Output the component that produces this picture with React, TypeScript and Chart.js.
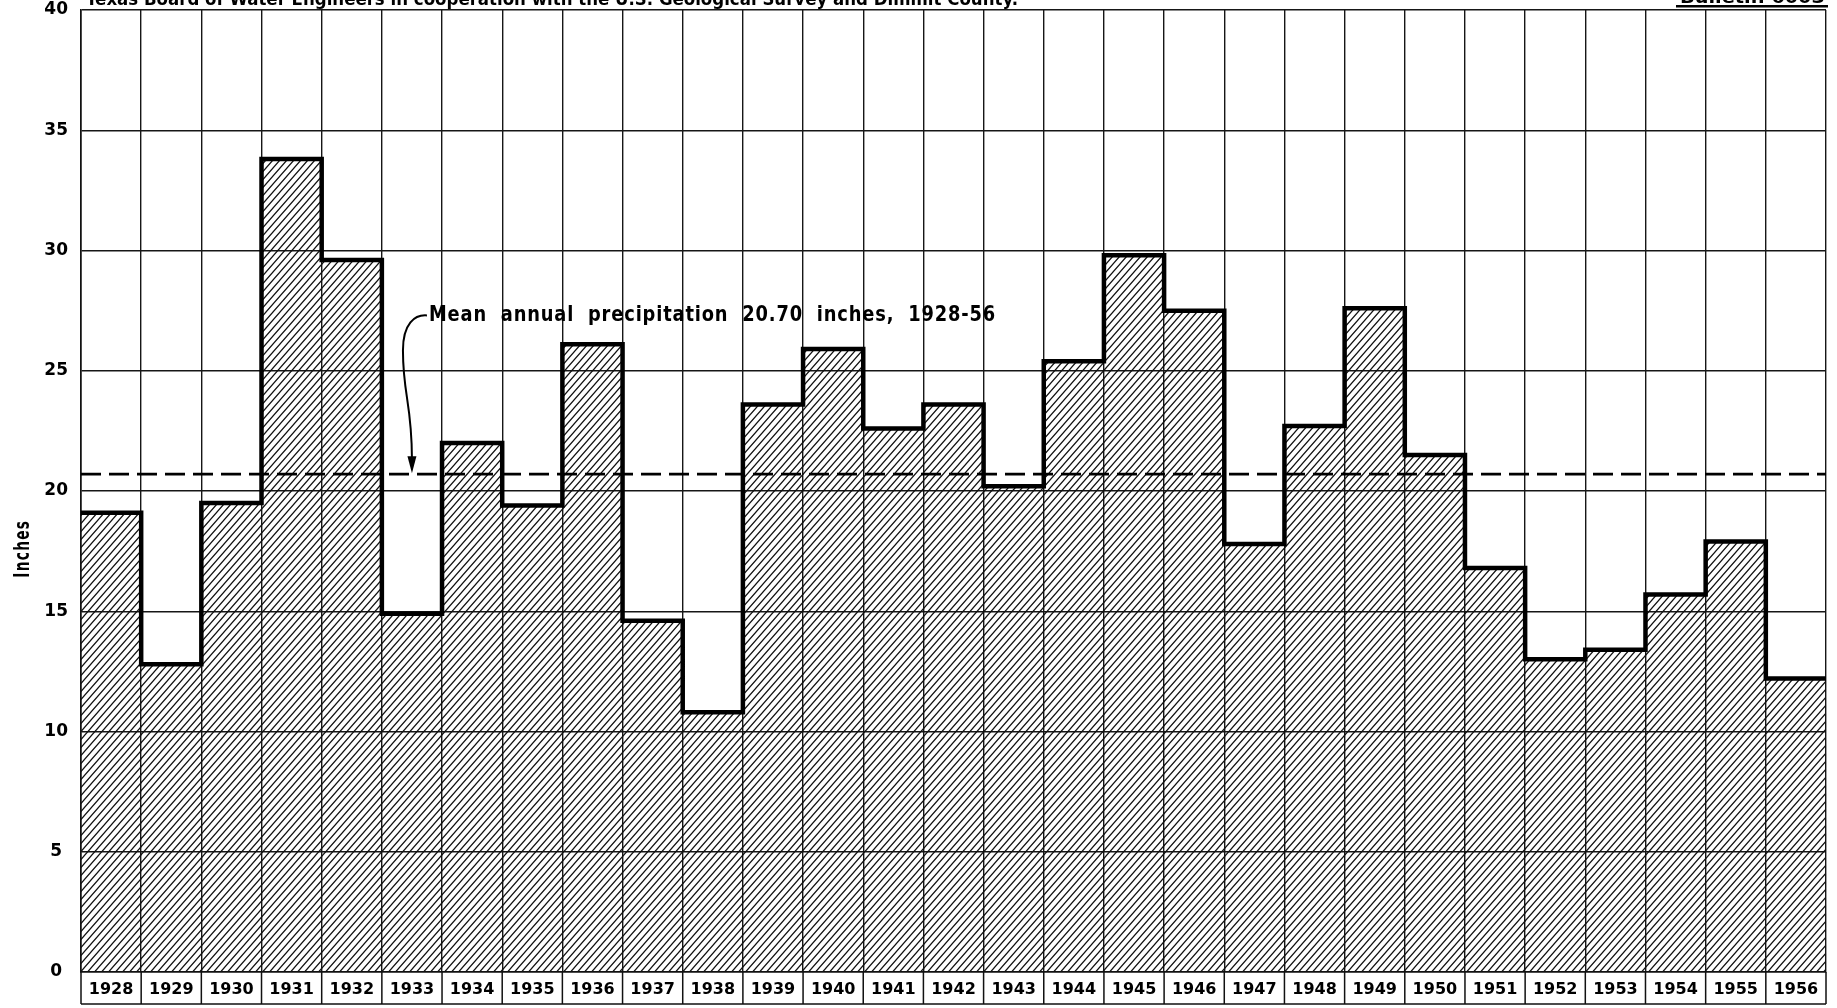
import React, { useEffect, useRef } from "react";
import { Chart, registerables } from "chart.js";

Chart.register(...registerables);

// ---------- data ----------
const YEARS = [
  "1928", "1929", "1930", "1931", "1932", "1933", "1934", "1935", "1936", "1937",
  "1938", "1939", "1940", "1941", "1942", "1943", "1944", "1945", "1946", "1947",
  "1948", "1949", "1950", "1951", "1952", "1953", "1954", "1955", "1956",
];
const PRECIP_INCHES = [
  19.1, 12.8, 19.5, 33.8, 29.6, 14.9, 22.0, 19.4, 26.1, 14.6,
  10.8, 23.6, 25.9, 22.6, 23.6, 20.2, 25.4, 29.8, 27.5, 17.8,
  22.7, 27.6, 21.5, 16.8, 13.0, 13.4, 15.7, 17.9, 12.2,
];
const MEAN_PRECIP = 20.7;
const Y_TICKS = [0, 5, 10, 15, 20, 25, 30, 35, 40];
const Y_TITLE = "Inches";
const MEAN_LABEL = "Mean annual precipitation 20.70 inches, 1928-56";
const MEAN_LABEL_YEAR_INDEX = 5; // arrow drops at the 1933 column
const MEAN_LABEL_VALUE = 27.3;
const HEADER_LEFT =
  "Texas Board of Water Engineers in cooperation with the U.S. Geological Survey and Dimmit County.";
const HEADER_RIGHT = "Bulletin 6003";

const FONT = '"DejaVu Sans", "Liberation Sans", sans-serif';

function makeHatch(): CanvasPattern | string {
  const w = 7;
  const h = 8;
  const c = document.createElement("canvas");
  c.width = w;
  c.height = h;
  const g = c.getContext("2d");
  if (!g) return "#888";
  g.strokeStyle = "#111";
  g.lineWidth = 1.25;
  g.beginPath();
  for (let k = -1; k <= 1; k++) {
    g.moveTo(k * w - 1, h + 8 / 7);
    g.lineTo(k * w + w + 1, -8 / 7);
  }
  g.stroke();
  const p = g.createPattern(c, "repeat");
  return p || "#888";
}

function fitText(
  ctx: CanvasRenderingContext2D,
  text: string,
  x: number,
  y: number,
  targetW: number,
  font: string,
  letterSpacing = "0px",
  wordSpacing = "0px"
) {
  ctx.save();
  ctx.font = font;
  (ctx as any).letterSpacing = letterSpacing;
  (ctx as any).wordSpacing = wordSpacing;
  const w = ctx.measureText(text).width || 1;
  ctx.translate(x, y);
  ctx.scale(targetW / w, 1);
  ctx.textAlign = "left";
  ctx.fillText(text, 0, 0);
  ctx.restore();
}

const decorPlugin = {
  id: "decor",
  afterDatasetsDraw(chart: any) {
    const ctx: CanvasRenderingContext2D = chart.ctx;
    const { left, right } = chart.chartArea;
    const yS = chart.scales.y;
    const bars: any[] = chart.getDatasetMeta(0).data;

    // mean dashed line
    const my = yS.getPixelForValue(MEAN_PRECIP);
    ctx.save();
    ctx.strokeStyle = "#000";
    ctx.lineWidth = 2.6;
    ctx.setLineDash([20, 8]);
    ctx.beginPath();
    ctx.moveTo(left, my);
    ctx.lineTo(right, my);
    ctx.stroke();
    ctx.restore();

    // heavy step outline of the bars
    ctx.save();
    ctx.strokeStyle = "#000";
    ctx.lineWidth = 4.5;
    ctx.lineJoin = "miter";
    ctx.lineCap = "butt";
    ctx.beginPath();
    bars.forEach((b, i) => {
      const p = b.getProps(["x", "y", "width"], true);
      const l = p.x - p.width / 2;
      const r = p.x + p.width / 2;
      if (i === 0) ctx.moveTo(l, p.y);
      else ctx.lineTo(l, p.y);
      ctx.lineTo(r, p.y);
    });
    ctx.stroke();
    ctx.restore();
  },
  afterDraw(chart: any) {
    const ctx: CanvasRenderingContext2D = chart.ctx;
    const { left, right, bottom } = chart.chartArea;
    const yS = chart.scales.y;
    const bars: any[] = chart.getDatasetMeta(0).data;

    // year label boxes
    const boxBottom = bottom + 32;
    ctx.save();
    ctx.strokeStyle = "#111";
    ctx.lineWidth = 1.5;
    ctx.beginPath();
    bars.forEach((b) => {
      const p = b.getProps(["x", "width"], true);
      const l = p.x - p.width / 2;
      ctx.moveTo(l, bottom);
      ctx.lineTo(l, boxBottom);
    });
    ctx.moveTo(right, bottom);
    ctx.lineTo(right, boxBottom);
    ctx.moveTo(left, boxBottom);
    ctx.lineTo(right, boxBottom);
    ctx.stroke();
    ctx.restore();

    // annotation text + arrow
    const ab = bars[MEAN_LABEL_YEAR_INDEX].getProps(["x"], true);
    const ax = ab.x;
    const ty = yS.getPixelForValue(MEAN_LABEL_VALUE);
    const tipY = yS.getPixelForValue(MEAN_PRECIP) - 1;
    ctx.save();
    ctx.fillStyle = "#000";
    ctx.textBaseline = "middle";
    fitText(ctx, MEAN_LABEL, ax + 17, ty, 567, `bold 21px ${FONT}`, "1px", "8px");
    ctx.strokeStyle = "#000";
    ctx.lineWidth = 2;
    ctx.beginPath();
    ctx.moveTo(ax + 15, ty);
    ctx.bezierCurveTo(ax + 3, ty - 1, ax - 9, ty + 8, ax - 9, ty + 35);
    ctx.bezierCurveTo(ax - 9, ty + 80, ax, tipY - 70, ax, tipY - 14);
    ctx.stroke();
    ctx.beginPath();
    ctx.moveTo(ax - 4.5, tipY - 17);
    ctx.lineTo(ax + 4.5, tipY - 17);
    ctx.lineTo(ax, tipY);
    ctx.closePath();
    ctx.fill();
    ctx.restore();

    // y title
    ctx.save();
    ctx.fillStyle = "#000";
    ctx.textBaseline = "middle";
    ctx.font = `bold 21px ${FONT}`;
    (ctx as any).letterSpacing = "2px";
    const tw = ctx.measureText(Y_TITLE).width || 1;
    ctx.translate(24, yS.getPixelForValue(17.6));
    ctx.rotate(-Math.PI / 2);
    ctx.scale(58 / tw, 1);
    ctx.textAlign = "left";
    ctx.fillText(Y_TITLE, -tw / 2, 0);
    ctx.restore();

    // clipped header lines at the top edge
    ctx.save();
    ctx.fillStyle = "#000";
    ctx.textBaseline = "alphabetic";
    fitText(ctx, HEADER_LEFT, 86, 5, 932, `bold 18px ${FONT}`);
    fitText(ctx, HEADER_RIGHT, 1680, 3, 145, `bold 18px ${FONT}`);
    ctx.fillRect(1676, 5, 152, 2.5);
    ctx.restore();
  },
};

export default function App() {
  const canvasRef = useRef<HTMLCanvasElement | null>(null);

  useEffect(() => {
    document.body.style.margin = "0";
    document.body.style.background = "#fff";
    const canvas = canvasRef.current;
    if (!canvas) return;
    Chart.defaults.font.family = FONT;
    const hatch = makeHatch();

    const chart = new Chart(canvas, {
      type: "bar",
      data: {
        labels: YEARS,
        datasets: [
          {
            label: "Annual precipitation",
            data: PRECIP_INCHES,
            backgroundColor: hatch as any,
            borderWidth: 0,
            barPercentage: 1,
            categoryPercentage: 1,
          },
        ],
      },
      options: {
        responsive: false,
        animation: false,
        layout: { padding: { top: 10, right: 11, left: 0, bottom: 0 } },
        plugins: {
          legend: { display: false },
          tooltip: { enabled: false },
        },
        scales: {
          x: {
            type: "category",
            offset: true,
            grid: { offset: true, color: "#161616", lineWidth: 1.4, drawTicks: false },
            border: { color: "#111", width: 1.6 },
            ticks: {
              color: "#000",
              font: { family: FONT, size: 16, weight: "bold" },
              padding: 8,
              maxRotation: 0,
              autoSkip: false,
            },
            afterFit: (s: any) => {
              s.height = 36;
            },
          },
          y: {
            min: Y_TICKS[0],
            max: Y_TICKS[Y_TICKS.length - 1],
            afterBuildTicks: (s: any) => {
              s.ticks = Y_TICKS.map((v) => ({ value: v }));
            },
            grid: { color: "#161616", lineWidth: 1.4, drawTicks: false },
            border: { color: "#111", width: 1.6 },
            ticks: {
              color: "#000",
              font: { family: FONT, size: 17, weight: "bold", lineHeight: 1.1 },
              padding: 13,
              crossAlign: "center",
            },
            afterFit: (s: any) => {
              s.width = 81;
              s.paddingTop = 0;
              s.paddingBottom = 0;
            },
          },
        },
      },
      plugins: [decorPlugin],
    });

    return () => {
      chart.destroy();
    };
  }, []);

  return (
    <div style={{ width: 1837, height: 1008, overflow: "hidden", background: "#fff" }}>
      <canvas ref={canvasRef} width={1837} height={1008} style={{ display: "block" }} />
    </div>
  );
}
